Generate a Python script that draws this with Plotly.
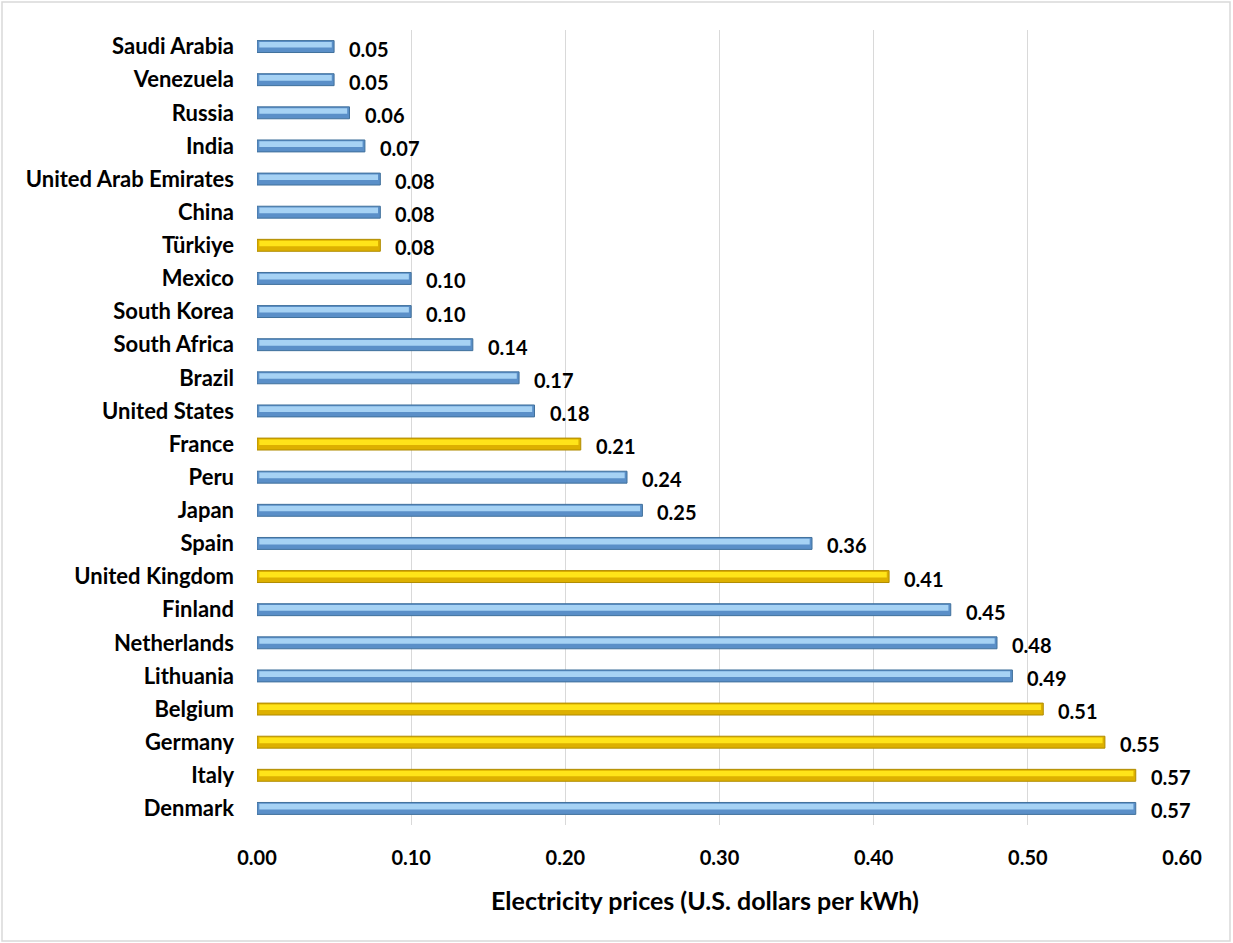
import plotly.graph_objects as go

countries = ["Saudi Arabia", "Venezuela", "Russia", "India", "United Arab Emirates", "China",
             "Türkiye", "Mexico", "South Korea", "South Africa", "Brazil", "United States",
             "France", "Peru", "Japan", "Spain", "United Kingdom", "Finland", "Netherlands",
             "Lithuania", "Belgium", "Germany", "Italy", "Denmark"]
prices = [0.05, 0.05, 0.06, 0.07, 0.08, 0.08, 0.08, 0.10, 0.10, 0.14, 0.17, 0.18,
          0.21, 0.24, 0.25, 0.36, 0.41, 0.45, 0.48, 0.49, 0.51, 0.55, 0.57, 0.57]
highlight = ["Türkiye", "France", "United Kingdom", "Belgium", "Germany", "Italy"]
x_ticks = [0.0, 0.1, 0.2, 0.3, 0.4, 0.5, 0.6]
x_title = "Electricity prices (U.S. dollars per kWh)"

W, H = 1233, 943
L, R, T, B = 257, 51, 30, 118

FONT = "Lato"
is_hl = [c in highlight for c in countries]
base_col = ["#DDB000" if h else "#5A8FC8" for h in is_hl]
edge_col = ["#B08C00" if h else "#41719C" for h in is_hl]
top_col = ["#FFE419" if h else "#A6D2F4" for h in is_hl]

fig = go.Figure()
fig.add_trace(go.Bar(
    x=prices, y=countries, orientation="h", width=0.36,
    marker=dict(color=base_col, line=dict(color=edge_col, width=1)),
    hoverinfo="skip", showlegend=False))
fig.add_trace(go.Bar(
    x=[p - 0.003 for p in prices], y=countries, orientation="h", width=0.17, offset=-0.14,
    base=[0.0015] * len(prices),
    marker=dict(color=top_col, line=dict(width=0)),
    hoverinfo="skip", showlegend=False))

for c, p in zip(countries, prices):
    fig.add_annotation(x=p, y=c, text=f"{p:.2f}", showarrow=False, xanchor="left",
                       xshift=13, yshift=-2,
                       font=dict(family=FONT, size=20, color="#000000", weight="bold"))

pw = W - L - R
ph = H - T - B
fig.add_annotation(x=(705 - L) / pw, y=(H - B - 900) / ph, xref="paper", yref="paper",
                   text=x_title, showarrow=False, xanchor="center", yanchor="middle",
                   font=dict(family=FONT, size=25, color="#000000", weight="bold"))
fig.add_shape(type="rect", xref="paper", yref="paper",
              x0=(2 - L) / pw, x1=(W - 3 - L) / pw,
              y0=(H - B - (H - 2)) / ph, y1=(H - B - 2) / ph,
              line=dict(color="#D9D9D9", width=1.5), fillcolor="rgba(0,0,0,0)", layer="below")

fig.update_layout(
    width=W, height=H,
    margin=dict(l=L, r=R, t=T, b=B, pad=0),
    paper_bgcolor="white", plot_bgcolor="white",
    barmode="overlay",
    font=dict(family=FONT, size=17, color="#000000"),
    xaxis=dict(range=[0, 0.6], tickvals=x_ticks, ticktext=[f"{v:.2f}" for v in x_ticks],
               showgrid=True, gridcolor="#D9D9D9", gridwidth=1, zeroline=False,
               showline=False, ticks="", ticklabelstandoff=19,
               tickfont=dict(family=FONT, size=20, color="#000000", weight="bold")),
    yaxis=dict(type="category", categoryorder="array", categoryarray=countries,
               autorange="reversed", showgrid=False, zeroline=False, showline=False,
               ticks="", ticklabelstandoff=22,
               tickfont=dict(family=FONT, size=22, color="#000000", weight="bold")),
)

fig.write_html("out.html")
